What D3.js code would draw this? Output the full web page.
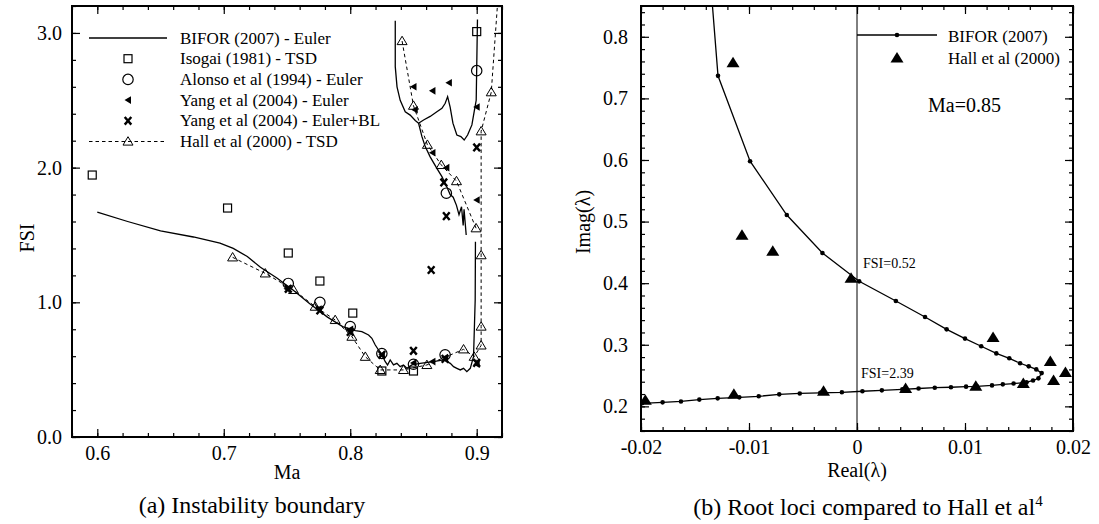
<!DOCTYPE html>
<html>
<head>
<meta charset="utf-8">
<script src="https://cdn.jsdelivr.net/npm/d3@7"></script>
<style>
body { margin: 0; background: #fff; }
text { font-family: "Liberation Serif", "Times New Roman", Times, serif; fill: #000; }
.axis path { display: none; }
.axis line { stroke: #000; stroke-width: 1.2; }
</style>
</head>
<body>
<svg width="1099" height="524"></svg>
<script>
// ---- data: (a) instability boundary ----
var xTicksA = [0.6, 0.7, 0.8, 0.9];
var xLabelsA = ["0.6", "0.7", "0.8", "0.9"];
var yTicksA = [0, 1, 2, 3];
var yLabelsA = ["0.0", "1.0", "2.0", "3.0"];

// BIFOR (2007) - Euler, three branches [Ma, FSI]
var biforMain = [[0.6,1.67],[0.624,1.6],[0.65,1.53],[0.676,1.485],[0.697,1.44],[0.7075,1.40],[0.7186,1.34],
  [0.729,1.26],[0.742,1.18],[0.755,1.09],[0.768,0.99],[0.782,0.89],[0.794,0.82],[0.804,0.789],[0.8092,0.782],
  [0.8145,0.757],[0.8171,0.733],[0.8198,0.683],[0.8224,0.646],[0.8251,0.609],[0.8277,0.559],[0.8295,0.535],
  [0.8316,0.572],[0.8342,0.535],[0.8369,0.547],[0.8395,0.522],[0.8421,0.535],[0.8448,0.51],[0.8487,0.535],
  [0.8553,0.547],[0.8659,0.559],[0.8737,0.572],[0.8791,0.547],[0.8817,0.522],[0.8843,0.51],[0.887,0.498],
  [0.8896,0.51],[0.8922,0.485],[0.8949,0.51],[0.8975,0.596],[0.8988,1.017],[0.899,1.45]];
var biforUpper = [[0.8356,3.09],[0.8356,2.75],[0.837,2.6],[0.8395,2.5],[0.8435,2.415],[0.8474,2.39],[0.8514,2.35],
  [0.854,2.33],[0.858,2.354],[0.8632,2.38],[0.8685,2.415],[0.8725,2.44],[0.8751,2.478],[0.877,2.527],[0.879,2.45],
  [0.8812,2.33],[0.8843,2.242],[0.8875,2.23],[0.8901,2.205],[0.8928,2.242],[0.8962,2.317],[0.898,2.415],
  [0.8996,2.5],[0.9006,3.1]];
var biforSpike = [[0.854,2.33],[0.8567,2.23],[0.8593,2.156],[0.8632,2.08],[0.8685,1.995],[0.8725,1.933],
  [0.8767,1.85],[0.879,1.80],[0.8814,1.78],[0.884,1.72],[0.886,1.65],[0.888,1.71],[0.8893,1.57],[0.890,1.69],[0.8917,1.5]];

var isogai = [[0.596,1.945],[0.703,1.70],[0.751,1.366],[0.776,1.158],[0.802,0.92],[0.825,0.49],[0.85,0.49],[0.9,3.01]];
var alonso = [[0.751,1.14],[0.776,1.0],[0.8,0.82],[0.825,0.62],[0.85,0.54],[0.875,0.61],[0.876,1.81],[0.9,2.72]];
var yangEuler = [[0.75,1.1],[0.775,0.95],[0.8,0.8],[0.825,0.61],[0.85,0.55],[0.865,0.56],[0.875,0.59],[0.9,0.54],
  [0.851,2.43],[0.865,2.11],[0.876,2.0],[0.9,1.76],[0.85,2.6],[0.865,2.57],[0.878,2.63],[0.9,2.45]];
var yangBL = [[0.751,1.1],[0.776,0.94],[0.8,0.78],[0.825,0.61],[0.85,0.64],[0.875,0.58],[0.9,0.55],
  [0.874,1.89],[0.876,1.64],[0.864,1.24],[0.9,2.15]];
var hallLow = [[0.707,1.334],[0.7328,1.215],[0.7552,1.092],[0.7723,0.968],[0.7881,0.869],[0.8013,0.745],
  [0.8119,0.596],[0.8237,0.498],[0.8421,0.498],[0.8606,0.535],[0.8896,0.651],[0.898,0.596],[0.9035,0.68],
  [0.9035,0.82],[0.9035,1.35],[0.9035,2.27],[0.9115,2.56],[0.9175,3.35]];
var hallUp = [[0.841,2.94],[0.85,2.46],[0.861,2.17],[0.872,2.02],[0.884,1.9],[0.8995,1.55]];

var legendA = ["BIFOR (2007) - Euler", "Isogai (1981) - TSD", "Alonso et al (1994) - Euler",
  "Yang et al (2004) - Euler", "Yang et al (2004) - Euler+BL", "Hall et al (2000) - TSD"];

// ---- data: (b) root loci, Ma = 0.85 ----
var xTicksB = [-0.02, -0.01, 0, 0.01, 0.02];
var xLabelsB = ["-0.02", "-0.01", "0", "0.01", "0.02"];
var yTicksB = [0.2, 0.3, 0.4, 0.5, 0.6, 0.7, 0.8];
var yLabelsB = ["0.2", "0.3", "0.4", "0.5", "0.6", "0.7", "0.8"];

// BIFOR root locus [Real, Imag]
var biforLocus = [[-0.0137,0.92],[-0.01287,0.7366],[-0.0099,0.598],[-0.0065,0.5106],[-0.0032,0.449],
  [0.0002,0.403],[0.0036,0.371],[0.0063,0.345],[0.0083,0.325],[0.01,0.31],[0.0115,0.2976],[0.0129,0.286],
  [0.0141,0.278],[0.0151,0.27],[0.0159,0.265],[0.0166,0.26],[0.0171,0.254],[0.0168,0.2455],[0.0163,0.242],
  [0.0157,0.239],[0.0145,0.237],[0.0135,0.2357],[0.0125,0.234],[0.0111,0.2325],[0.0101,0.232],[0.0087,0.231],
  [0.0072,0.2303],[0.0057,0.229],[0.0042,0.2276],[0.0023,0.226],[0.0005,0.2245],[-0.0014,0.2228],
  [-0.0034,0.222],[-0.0053,0.221],[-0.0072,0.2195],[-0.0091,0.2163],[-0.0109,0.2146],[-0.0129,0.213],
  [-0.0146,0.211],[-0.0163,0.208],[-0.018,0.2065],[-0.0199,0.205]];
var hallLocus = [[-0.01148,0.758],[-0.01065,0.478],[-0.0078,0.452],[-0.00055,0.408],[0.0126,0.312],
  [0.0179,0.273],[0.0193,0.255],[0.0182,0.242],[0.0154,0.237],[0.011,0.2325],[0.0045,0.229],
  [-0.0031,0.2245],[-0.0114,0.2195],[-0.0196,0.21]];
var legendB = ["BIFOR (2007)", "Hall et al (2000)"];

var FONT = '"Liberation Serif", "Times New Roman", Times, serif';
var svg = d3.select("svg");

function minorTicks(lo, hi, step) {
  var out = [];
  for (var v = lo; v <= hi + step / 2; v += step) out.push(+v.toFixed(6));
  return out;
}

function label(x, y, str, size, anchor) {
  return svg.append("text").attr("x", x).attr("y", y).attr("font-family", FONT)
    .attr("font-size", size).attr("text-anchor", anchor || "start").text(str);
}

// draws a framed plot with inward ticks on all four sides
function frame(x, y, xt, xl, yt, yl, xMinor, yMinor, labelPadY) {
  var x0 = x.range()[0], x1 = x.range()[1], y0 = y.range()[0], y1 = y.range()[1];
  var g = svg.append("g");
  [[d3.axisBottom, y0, true], [d3.axisTop, y1, false]].forEach(function (a) {
    g.append("g").attr("class", "axis").attr("transform", "translate(0," + a[1] + ")")
      .call(a[0](x).tickValues(xMinor).tickSize(-4).tickFormat(""));
    var ax = g.append("g").attr("class", "axis").attr("transform", "translate(0," + a[1] + ")")
      .call(a[0](x).tickValues(xt).tickSize(-8).tickPadding(9)
        .tickFormat(function (d, i) { return a[2] ? xl[i] : ""; }));
    ax.attr("font-family", FONT).attr("font-size", 20);
  });
  [[d3.axisLeft, x0, true], [d3.axisRight, x1, false]].forEach(function (a) {
    g.append("g").attr("class", "axis").attr("transform", "translate(" + a[1] + ",0)")
      .call(a[0](y).tickValues(yMinor).tickSize(-4).tickFormat(""));
    var ax = g.append("g").attr("class", "axis").attr("transform", "translate(" + a[1] + ",0)")
      .call(a[0](y).tickValues(yt).tickSize(-8).tickPadding(labelPadY)
        .tickFormat(function (d, i) { return a[2] ? yl[i] : ""; }));
    ax.attr("font-family", FONT).attr("font-size", 20);
  });
  g.append("rect").attr("x", x0).attr("y", y1).attr("width", x1 - x0).attr("height", y0 - y1)
    .attr("fill", "none").attr("stroke", "#000").attr("stroke-width", 2);
}

// ================= (a) =================
var xA = d3.scaleLinear().domain([0.58, 0.92]).range([72, 502]);
var yA = d3.scaleLinear().domain([0, 3.2]).range([437, 6]);

svg.append("clipPath").attr("id", "clipA").append("rect")
  .attr("x", 72).attr("y", 6).attr("width", 430).attr("height", 431);

var lineA = d3.line().x(function (d) { return xA(d[0]); }).y(function (d) { return yA(d[1]); });
var gA = svg.append("g").attr("clip-path", "url(#clipA)");

[biforMain, biforUpper, biforSpike].forEach(function (s) {
  gA.append("path").attr("d", lineA(s)).attr("fill", "none").attr("stroke", "#000").attr("stroke-width", 1.3);
});
[hallLow, hallUp].forEach(function (s) {
  gA.append("path").attr("d", lineA(s)).attr("fill", "none").attr("stroke", "#000")
    .attr("stroke-width", 1).attr("stroke-dasharray", "3.5,3");
});

var sym = {
  square: function (g) { g.append("rect").attr("x", -4).attr("y", -4).attr("width", 8).attr("height", 8)
    .attr("fill", "none").attr("stroke", "#000").attr("stroke-width", 1.2); },
  circle: function (g) { g.append("circle").attr("r", 5.2)
    .attr("fill", "none").attr("stroke", "#000").attr("stroke-width", 1.2); },
  left: function (g) { g.append("path").attr("d", "M3,-3.8L3,3.8L-3.5,0Z").attr("fill", "#000"); },
  cross: function (g) { g.append("path").attr("d", "M-3.3,-3.8L3.3,3.8M3.3,-3.8L-3.3,3.8")
    .attr("stroke", "#000").attr("stroke-width", 2.4); },
  tri: function (g) { g.append("path").attr("d", "M0,-4.8L5,3.6L-5,3.6Z")
    .attr("fill", "none").attr("stroke", "#000").attr("stroke-width", 1); }
};

function marks(g, data, kind, x, y) {
  g.selectAll(null).data(data).enter().append("g")
    .attr("transform", function (d) { return "translate(" + x(d[0]) + "," + y(d[1]) + ")"; })
    .each(function () { sym[kind](d3.select(this)); });
}
marks(gA, isogai, "square", xA, yA);
marks(gA, alonso, "circle", xA, yA);
marks(gA, yangEuler, "left", xA, yA);
marks(gA, yangBL, "cross", xA, yA);
var hallMarks = hallLow.slice(0, hallLow.length - 1).concat(hallUp);
marks(gA, hallMarks, "tri", xA, yA);

frame(xA, yA, xTicksA, xLabelsA, yTicksA, yLabelsA,
  minorTicks(0.58, 0.92, 0.02), minorTicks(0, 3.2, 0.2), 10);

// legend (a)
var legA = svg.append("g");
legendA.forEach(function (t, i) {
  var cy = 38 + i * 20.7;
  label(180, cy + 5.5, t, 17);
  var s = legA.append("g").attr("transform", "translate(128," + cy + ")");
  if (i == 0) legA.append("line").attr("x1", 89).attr("x2", 167).attr("y1", cy).attr("y2", cy)
    .attr("stroke", "#000").attr("stroke-width", 1.3);
  if (i == 1) sym.square(s);
  if (i == 2) sym.circle(s);
  if (i == 3) sym.left(s);
  if (i == 4) sym.cross(s);
  if (i == 5) {
    legA.append("line").attr("x1", 89).attr("x2", 167).attr("y1", cy).attr("y2", cy)
      .attr("stroke", "#000").attr("stroke-width", 1).attr("stroke-dasharray", "3.5,3");
    s.append("rect").attr("x", -6).attr("y", -6).attr("width", 12).attr("height", 11).attr("fill", "#fff");
    sym.tri(s);
  }
});

label(287, 479, "Ma", 20, "middle");
label(0, 0, "FSI", 20, "middle").attr("transform", "translate(34,238) rotate(-90)");
label(252, 513, "(a)  Instability boundary", 24, "middle");

// ================= (b) =================
var xB = d3.scaleLinear().domain([-0.02, 0.02]).range([641, 1073]);
var yB = d3.scaleLinear().domain([0.16, 0.85]).range([431, 6]);

svg.append("clipPath").attr("id", "clipB").append("rect")
  .attr("x", 641).attr("y", 6).attr("width", 432).attr("height", 425);
var gB = svg.append("g").attr("clip-path", "url(#clipB)");

// zero line
gB.append("line").attr("x1", xB(0)).attr("x2", xB(0)).attr("y1", 6).attr("y2", 431)
  .attr("stroke", "#000").attr("stroke-width", 1);

var lineB = d3.line().x(function (d) { return xB(d[0]); }).y(function (d) { return yB(d[1]); });
gB.append("path").attr("d", lineB(biforLocus)).attr("fill", "none").attr("stroke", "#000").attr("stroke-width", 1.3);
gB.selectAll(".dot").data(biforLocus).enter().append("circle").attr("class", "dot")
  .attr("cx", function (d) { return xB(d[0]); }).attr("cy", function (d) { return yB(d[1]); })
  .attr("r", 2.3).attr("fill", "#000");
gB.selectAll(".hall").data(hallLocus).enter().append("path").attr("class", "hall")
  .attr("transform", function (d) { return "translate(" + xB(d[0]) + "," + yB(d[1]) + ")"; })
  .attr("d", "M0,-6L6.5,4.5L-6.5,4.5Z").attr("fill", "#000");

frame(xB, yB, xTicksB, xLabelsB, yTicksB, yLabelsB,
  minorTicks(-0.02, 0.02, 0.002), minorTicks(0.16, 0.84, 0.02), 13);

// legend (b)
svg.append("line").attr("x1", 857).attr("x2", 937).attr("y1", 35).attr("y2", 35)
  .attr("stroke", "#000").attr("stroke-width", 1.3);
svg.append("circle").attr("cx", 897).attr("cy", 35).attr("r", 2.3).attr("fill", "#000");
svg.append("path").attr("transform", "translate(897,58)").attr("d", "M0,-6L6.5,4.5L-6.5,4.5Z").attr("fill", "#000");
label(948, 41.5, legendB[0], 17);
label(948, 64, legendB[1], 17);

label(928, 112, "Ma=0.85", 20);
label(863, 268, "FSI=0.52", 14);
label(861, 378, "FSI=2.39", 14);

label(857, 477, "Real(λ)", 20, "middle");
label(0, 0, "Imag(λ)", 20, "middle").attr("transform", "translate(590,222) rotate(-90)");
var cap = label(868, 515, "(b)  Root loci compared to Hall et al", 24, "middle");
cap.append("tspan").attr("dy", -9).attr("font-size", 15).text("4");
</script>
</body>
</html>
